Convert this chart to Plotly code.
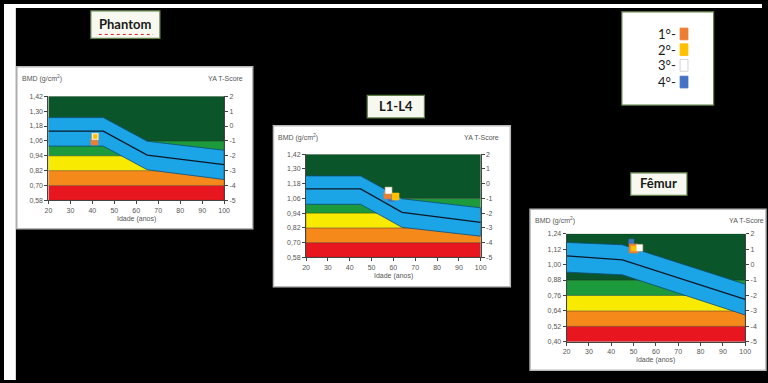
import plotly.graph_objects as go

W, H = 768, 383

# ---------------- data ----------------
# zone limits in T-score units and colours (red, orange, yellow, light green, dark green)
zone_t_bounds = [-5, -4, -3, -2, -1, 2]
zone_colors = ["#e8161f", "#f58a1a", "#f8ea00", "#1d9a3c", "#0a552a"]
sd_bmd = 0.12

t_ticks = [2, 1, 0, -1, -2, -3, -4, -5]
age_ticks = [20, 30, 40, 50, 60, 70, 80, 90, 100]

# Phantom
phantom_ref = 1.18
phantom_bmd_ticks = [1.42, 1.30, 1.18, 1.06, 0.94, 0.82, 0.70, 0.58]
phantom_age = [20, 45, 65, 100]
phantom_upper = [1.248, 1.248, 1.057, 0.984]
phantom_mid = [1.138, 1.138, 0.945, 0.868]
phantom_lower = [1.018, 1.018, 0.827, 0.748]
phantom_exam_age = [41.0, 41.3, 41.3, 41.0]      # 1°, 2°, 3°, 4°
phantom_exam_bmd = [1.055, 1.095, 1.095, 1.07]

# L1-L4
l1l4_ref = 1.18
l1l4_bmd_ticks = [1.42, 1.30, 1.18, 1.06, 0.94, 0.82, 0.70, 0.58]
l1l4_age = [20, 45, 64, 100]
l1l4_upper = [1.243, 1.243, 1.057, 0.983]
l1l4_mid = [1.137, 1.137, 0.946, 0.864]
l1l4_lower = [1.012, 1.012, 0.824, 0.752]
l1l4_exam_age = [57.3, 61.0, 57.8, 59.0]
l1l4_exam_bmd = [1.085, 1.075, 1.124, 1.060]

# Fêmur
femur_ref = 1.00
femur_bmd_ticks = [1.24, 1.12, 1.00, 0.88, 0.76, 0.64, 0.52, 0.40]
femur_age = [20, 45, 100]
femur_upper = [1.172, 1.154, 0.847]
femur_mid = [1.068, 1.037, 0.730]
femur_lower = [0.941, 0.920, 0.608]
femur_exam_age = [50.0, 50.0, 52.6, 49.0]
femur_exam_bmd = [1.125, 1.125, 1.130, 1.178]

exam_labels = ["1°-", "2°-", "3°-", "4°-"]
exam_colors = ["#ed7d31", "#ffc000", "#ffffff", "#4472c4"]
exam_sizes_phantom = [7, 4, 7, 6]
exam_sizes_l1l4 = [7, 7, 7, 6]
exam_sizes_femur = [9, 5, 7, 5]

# ---------------- layout geometry (pixels) ----------------
def fx(x):
    return x / W

def fy(y):
    return 1 - y / H

charts = [
    dict(name="Phantom", ref=phantom_ref, ticks=phantom_bmd_ticks, age=phantom_age,
         up=phantom_upper, mid=phantom_mid, lo=phantom_lower,
         ex=phantom_exam_age, ey=phantom_exam_bmd, sizes=exam_sizes_phantom,
         plot=(45, 94, 223, 200), panel=(13, 64, 252, 229), box=(88, 7, 158, 35)),
    dict(name="L1-L4", ref=l1l4_ref, ticks=l1l4_bmd_ticks, age=l1l4_age,
         up=l1l4_upper, mid=l1l4_mid, lo=l1l4_lower,
         ex=l1l4_exam_age, ey=l1l4_exam_bmd, sizes=exam_sizes_l1l4,
         plot=(306, 153, 483, 258), panel=(273, 124, 513, 288), box=(368, 93, 426, 116)),
    dict(name="Fêmur", ref=femur_ref, ticks=femur_bmd_ticks, age=femur_age,
         up=femur_upper, mid=femur_mid, lo=femur_lower,
         ex=femur_exam_age, ey=femur_exam_bmd, sizes=exam_sizes_femur,
         plot=(570, 234, 751, 344), panel=(533, 209, 772, 373), box=(635, 172, 692, 195)),
]

fig = go.Figure()
shapes = []
annotations = []
axis_font = dict(family="Liberation Sans Narrow, Liberation Sans, Arial", size=7, color="#555555")

# background white strips (page edges)
shapes.append(dict(type="rect", xref="paper", yref="paper", x0=0, x1=1, y0=fy(4), y1=1,
                   fillcolor="white", line=dict(width=0), layer="below"))
shapes.append(dict(type="rect", xref="paper", yref="paper", x0=0, x1=fx(12), y0=0, y1=1,
                   fillcolor="white", line=dict(width=0), layer="below"))

for i, c in enumerate(charts):
    n = i + 1
    xa = "x" if n == 1 else f"x{n}"
    ya = "y" if n == 1 else f"y{n}"
    ta = f"y{n + 3}"
    ymin = c["ref"] + sd_bmd * zone_t_bounds[0]
    ymax = c["ref"] + sd_bmd * zone_t_bounds[-1]

    # zones
    for k in range(len(zone_colors)):
        lo = c["ref"] + sd_bmd * zone_t_bounds[k]
        hi = c["ref"] + sd_bmd * zone_t_bounds[k + 1]
        fig.add_trace(go.Scatter(x=[20, 100, 100, 20, 20], y=[lo, lo, hi, hi, lo],
                                 fill="toself", fillcolor=zone_colors[k], mode="lines",
                                 line=dict(width=0.6, color="rgba(40,40,20,0.5)"),
                                 xaxis=xa, yaxis=ya, hoverinfo="skip", showlegend=False))
    # reference band
    fig.add_trace(go.Scatter(x=c["age"] + c["age"][::-1], y=c["up"] + c["lo"][::-1],
                             fill="toself", fillcolor="#1ca5e6", mode="lines",
                             line=dict(width=0.8, color="#0d4d78"),
                             xaxis=xa, yaxis=ya, hoverinfo="skip", showlegend=False))
    fig.add_trace(go.Scatter(x=c["age"], y=c["mid"], mode="lines",
                             line=dict(width=1.3, color="#0a1a2a"),
                             xaxis=xa, yaxis=ya, hoverinfo="skip", showlegend=False))
    # exams: draw order 4°, 1°, 3°, 2°
    for j in [3, 0, 2, 1]:
        fig.add_trace(go.Scatter(x=[c["ex"][j]], y=[c["ey"][j]], mode="markers",
                                 marker=dict(symbol="square", size=c["sizes"][j], color=exam_colors[j],
                                             line=dict(width=0.6, color="#b0a070" if j == 2 else exam_colors[j])),
                                 xaxis=xa, yaxis=ya, name=exam_labels[j], showlegend=False))
    # dummy on T axis
    fig.add_trace(go.Scatter(x=[20, 100], y=[-5, 2], mode="markers", marker=dict(opacity=0),
                             xaxis=xa, yaxis=ta, hoverinfo="skip", showlegend=False))

    x0, y0, x1, y1 = c["plot"]
    xdom = [fx(x0), fx(x1)]
    ydom = [fy(y1), fy(y0)]
    common = dict(showgrid=False, zeroline=False, ticks="outside", ticklen=3, tickwidth=1,
                  tickcolor="#444", showline=True, linecolor="#444", linewidth=1,
                  tickfont=axis_font, fixedrange=True)
    fig.update_layout(**{
        ("xaxis" if n == 1 else f"xaxis{n}"): dict(domain=xdom, range=[20, 100], anchor=ya,
                                                    tickvals=age_ticks, ticktext=[str(a) for a in age_ticks],
                                                    **common),
        ("yaxis" if n == 1 else f"yaxis{n}"): dict(domain=ydom, range=[ymin, ymax], anchor=xa,
                                                    tickvals=c["ticks"],
                                                    ticktext=[f"{v:.2f}".replace(".", ",") for v in c["ticks"]],
                                                    **common),
        f"yaxis{n + 3}": dict(overlaying=ya, anchor=xa, side="right", range=[-5, 2],
                              tickvals=t_ticks, ticktext=[str(t) for t in t_ticks], **common),
    })

    # panel
    p0, q0, p1, q1 = c["panel"]
    shapes.append(dict(type="rect", xref="paper", yref="paper", x0=fx(p0), x1=fx(p1), y0=fy(q1), y1=fy(q0),
                       fillcolor="white", line=dict(width=1.5, color="#b8b8b8"), layer="below"))
    # panel texts
    annotations.append(dict(xref="paper", yref="paper", x=fx(p0 + 3), y=fy(q0 + 12), xanchor="left",
                            yanchor="middle", text="BMD (g/cm<sup>2</sup>)", showarrow=False, font=axis_font))
    annotations.append(dict(xref="paper", yref="paper", x=fx(x1 + 21), y=fy(q0 + 12), xanchor="right",
                            yanchor="middle", text="YA T-Score", showarrow=False, font=axis_font))
    annotations.append(dict(xref="paper", yref="paper", x=(xdom[0] + xdom[1]) / 2, y=fy(y1 + 19),
                            xanchor="center", yanchor="middle", text="Idade (anos)", showarrow=False,
                            font=axis_font))
    # title box
    b0, r0, b1, r1 = c["box"]
    shapes.append(dict(type="rect", xref="paper", yref="paper", x0=fx(b0), x1=fx(b1), y0=fy(r1), y1=fy(r0),
                       fillcolor="#f7f9f0", line=dict(width=1.2, color="#5f7f48"), layer="below"))
    annotations.append(dict(xref="paper", yref="paper", x=fx((b0 + b1) / 2), y=fy((r0 + r1) / 2 - 1),
                            xanchor="center", yanchor="middle", text=f"<b>{c['name']}</b>", showarrow=False,
                            font=dict(family="Lato, Open Sans, sans-serif", size=13, color="#1a1a1a")))

# red spell-check underline under "Phantom"
shapes.append(dict(type="line", xref="paper", yref="paper", x0=fx(96), x1=fx(151), y0=fy(31), y1=fy(31),
                   line=dict(color="#d02020", width=1, dash="dot")))

# legend box
shapes.append(dict(type="rect", xref="paper", yref="paper", x0=fx(626), x1=fx(719), y0=fy(103), y1=fy(8),
                   fillcolor="white", line=dict(width=1.2, color="#5f7f48"), layer="below"))
leg_rows = [30.5, 46.5, 62.5, 79.5]
for lab, col, yy in zip(exam_labels, exam_colors, leg_rows):
    annotations.append(dict(xref="paper", yref="paper", x=fx(683), y=fy(yy), xanchor="right", yanchor="middle",
                            text=lab, showarrow=False,
                            font=dict(family="Lato, Open Sans, sans-serif", size=13, color="#1a1a1a")))
    shapes.append(dict(type="rect", xref="paper", yref="paper", x0=fx(685), x1=fx(693),
                       y0=fy(yy + 6), y1=fy(yy - 6), fillcolor=col,
                       line=dict(width=0.8, color="#c8c8c8" if col == "#ffffff" else col)))

fig.update_layout(width=W, height=H, autosize=False, margin=dict(l=0, r=0, t=0, b=0, pad=0),
                  paper_bgcolor="black", plot_bgcolor="white", showlegend=False,
                  shapes=shapes, annotations=annotations)

fig.write_html("out.html", config={"displayModeBar": False},
               post_script="document.documentElement.style.margin='0';document.documentElement.style.background='black';"
                           "document.body.style.margin='0';document.body.style.padding='0';"
                           "document.body.style.background='black';document.body.style.overflow='hidden';")
